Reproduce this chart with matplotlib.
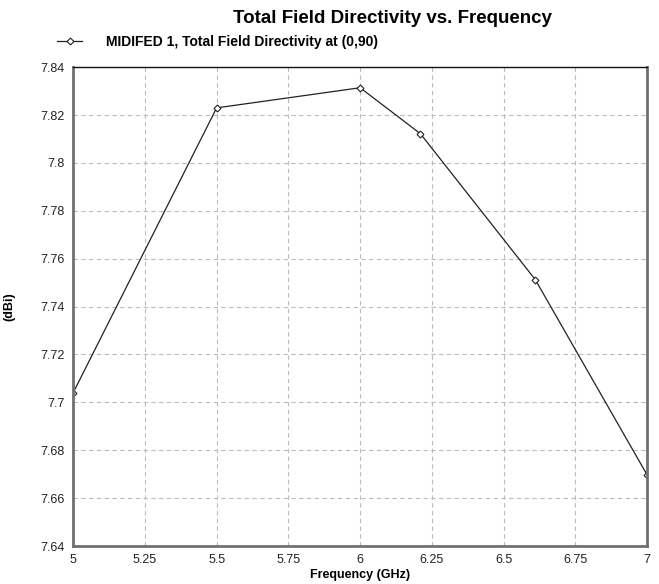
import matplotlib
matplotlib.use('Agg')
import matplotlib.pyplot as plt

plt.rcParams['font.family'] = ['Liberation Sans', 'DejaVu Sans']

# data
freq = [5.0, 5.5, 6.0, 6.21, 6.61, 7.0]
directivity = [7.704, 7.823, 7.8314, 7.8122, 7.7513, 7.6697]
xticks = [5, 5.25, 5.5, 5.75, 6, 6.25, 6.5, 6.75, 7]
xticklabels = ['5', '5.25', '5.5', '5.75', '6', '6.25', '6.5', '6.75', '7']
yticks = [7.64, 7.66, 7.68, 7.7, 7.72, 7.74, 7.76, 7.78, 7.8, 7.82, 7.84]
yticklabels = ['7.64', '7.66', '7.68', '7.7', '7.72', '7.74', '7.76', '7.78', '7.8', '7.82', '7.84']

fig = plt.figure(figsize=(6.59, 5.84), dpi=100)
ax = fig.add_axes([0.111, 0.065, 0.871, 0.820])

line, = ax.plot(freq, directivity, color='#222222', lw=0.9, marker='D', ms=3.5,
                mfc='white', mec='#222222', mew=0.8,
                label='MIDIFED 1, Total Field Directivity at (0,90)')

ax.set_xlim(5, 7)
ax.set_ylim(7.64, 7.84)
ax.set_xticks(xticks)
ax.set_xticklabels(xticklabels)
ax.set_yticks(yticks)
ax.set_yticklabels(yticklabels)
ax.tick_params(length=0, labelsize=9, pad=6, colors='#222222')
ax.grid(True, color='#bbbbbb', ls=(0, (4, 3)), lw=0.8)

# spines like the reference
for s in ['left', 'right', 'bottom']:
    ax.spines[s].set_color('#707070')
    ax.spines[s].set_linewidth(2)
ax.spines['top'].set_color('#111111')
ax.spines['top'].set_linewidth(1)

ax.set_xlabel('Frequency (GHz)', fontsize=9, fontweight='bold', labelpad=2)
ax.set_ylabel('(dBi)', fontsize=9, fontweight='bold', labelpad=18)

fig.text(0.595, 0.968, 'Total Field Directivity vs. Frequency', ha='center', va='center',
         fontsize=13.5, fontweight='bold')

fig.legend(handles=[line], loc='center left', bbox_to_anchor=(0.087, 0.928),
           frameon=False, prop={'size': 10, 'weight': 'bold'},
           handlelength=1.8, handletextpad=1.7, borderpad=0, borderaxespad=0)

fig.savefig('out.png', dpi=100)
